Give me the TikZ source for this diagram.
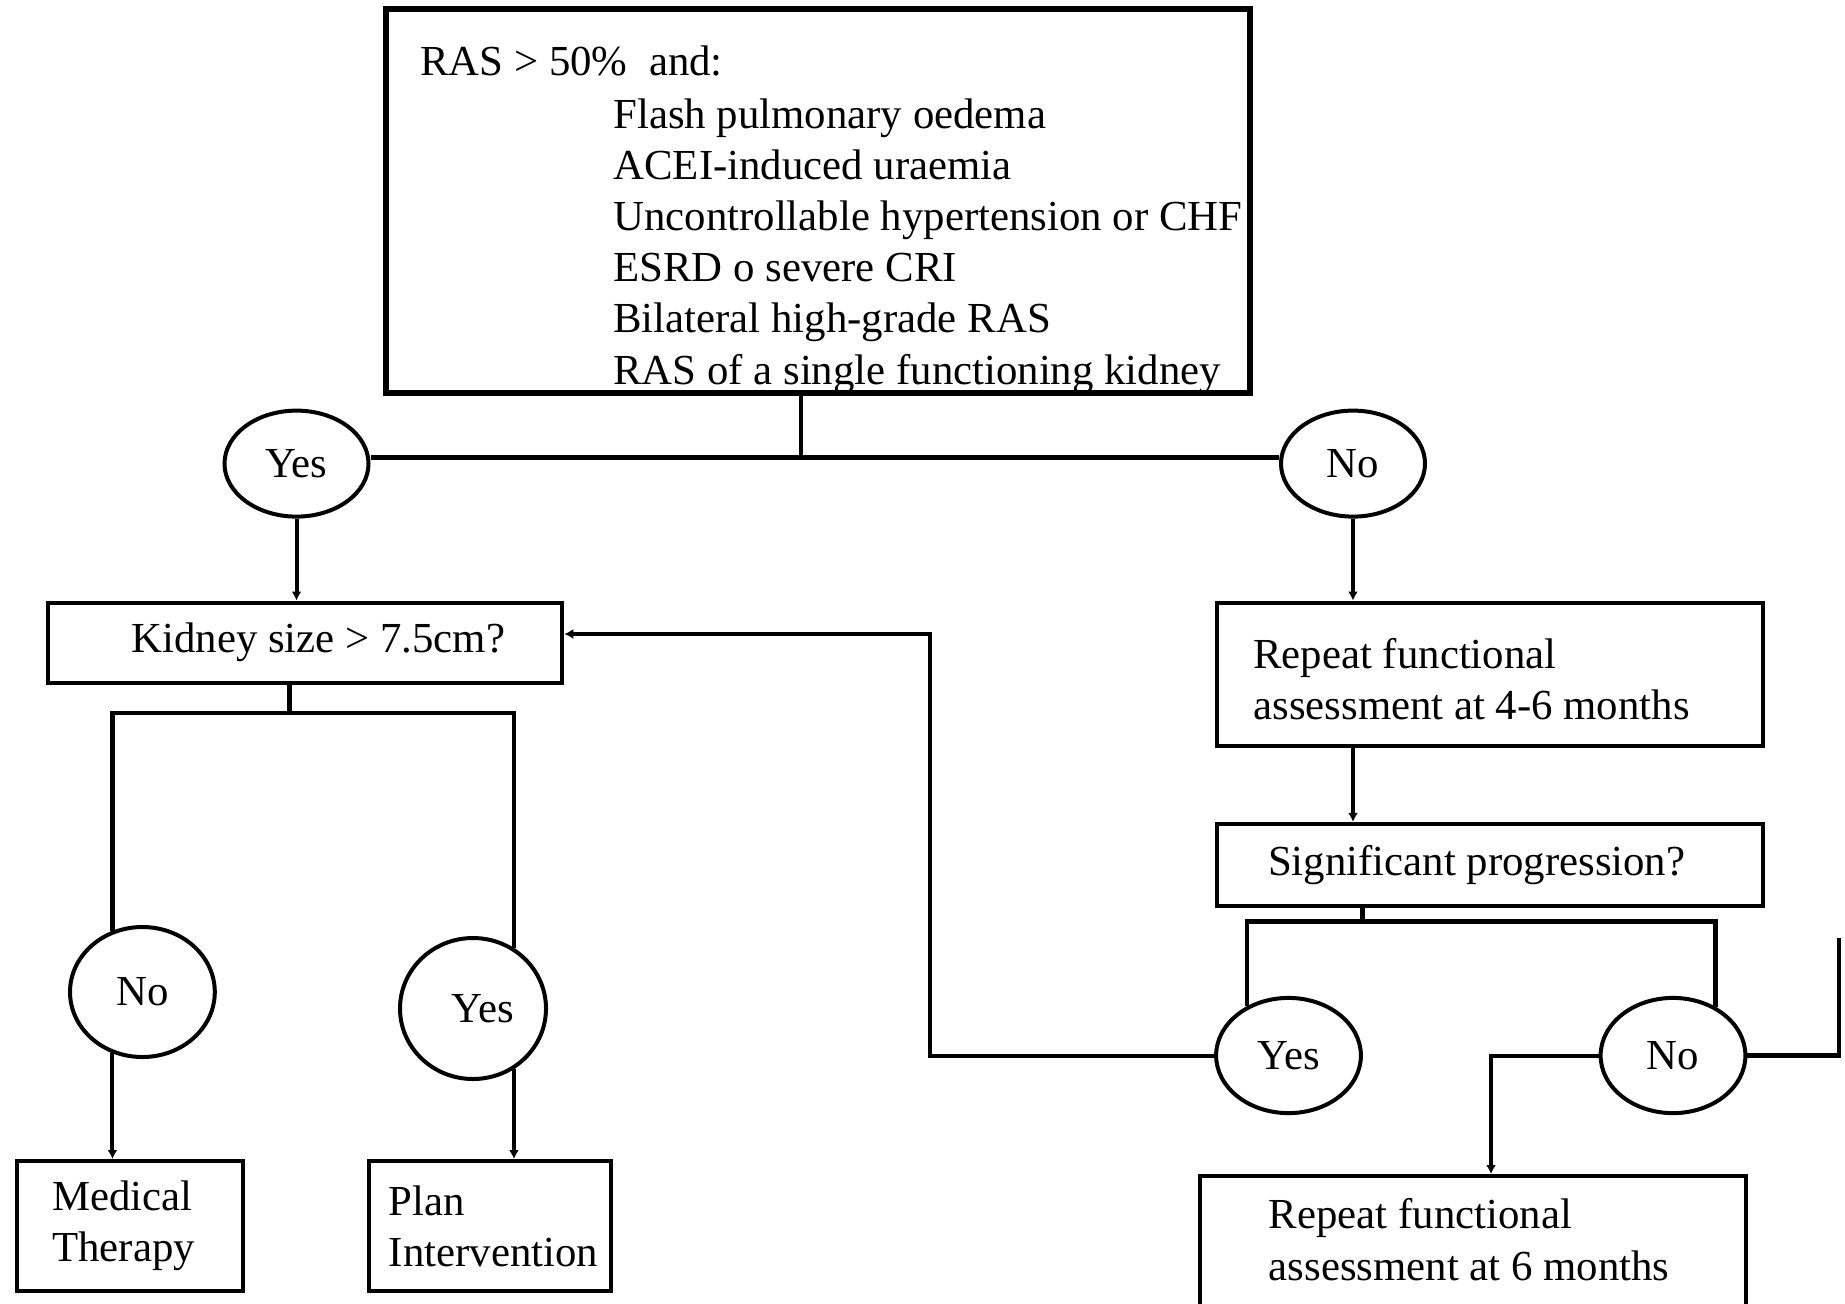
\documentclass[tikz,border=0pt]{standalone}
\usepackage{fontspec}
\setmainfont{Liberation Serif}
\usetikzlibrary{shapes.geometric}
\usetikzlibrary{arrows.meta}
\newcommand{\flowfont}{\fontsize{21.4}{25.5}\selectfont}

\begin{document}
\begin{tikzpicture}[x=0.5pt, y=-0.5pt, font=\flowfont,
    box/.style={draw, line width=2pt, inner sep=0pt},
    oval/.style={draw, ellipse, line width=2pt, inner sep=0pt, minimum width=72pt},
    txt/.style={anchor=base west, inner sep=0pt},
    link/.style={line width=2.3pt},
    arr/.style={line width=2pt, -{Latex[length=4.5pt,width=5pt]}}]
  \useasboundingbox (0,0) rectangle (1845,1303);
  % criteria box
  \node[box, line width=2.8pt, minimum width=432pt, minimum height=192pt] (crit) at (818,201) {};
  \node[txt] (ras) at (420,75) {RAS > 50\%\ \ and:};
  \node[txt] (c1) at (613,128) {Flash pulmonary oedema};
  \node[txt] (c2) at (613,179) {ACEI-induced uraemia};
  \node[txt] (c3) at (613,230) {Uncontrollable hypertension or CHF};
  \node[txt] (c4) at (613,281) {ESRD o severe CRI};
  \node[txt] (c5) at (613,332) {Bilateral high-grade RAS};
  \node[txt] (c6) at (613,384) {RAS of a single functioning kidney};
  \node[oval, minimum height=53pt] (yesA) at (296.5,463.6) {Yes};
  \node[oval, minimum height=53pt] (noA) at (1353,463.6) {No};
  \draw[link] ([xshift=-8.5pt]crit.south) -- ([xshift=-8.5pt,yshift=3pt]crit.south |- yesA.east);
  \draw[link] ([yshift=3pt]yesA.east) -- ([yshift=3pt]noA.west);
  % kidney size branch
  \node[box, minimum width=257pt, minimum height=40pt] (kid) at (305.3,642.5) {\hspace*{13pt}Kidney size > 7.5cm?};
  \draw[arr] (yesA.south) -- (yesA.south |- kid.north);
  \node[oval, minimum width=72.4pt, minimum height=65pt] (noB) at (142.4,992) {No};
  \node[oval, minimum width=73pt, minimum height=70.5pt] (yesB) at (473,1008.5) {\hspace*{10pt}Yes};
  \coordinate (kfork) at (289.5,713);
  \draw[link] (kid.south -| kfork) -- (kfork);
  \draw[link] (noB.116) |- (kfork) -| (yesB.56);
  \node[box, align=left, minimum width=113pt, minimum height=65pt] (med) at (129.5,1226) {Medical\\Therapy\hspace*{6pt}};
  \node[box, align=left, minimum width=120.6pt, minimum height=65pt] (plan) at (490,1226) {\hspace*{3.5pt}Plan\\\hspace*{3.5pt}Intervention};
  \draw[arr] (noB.244) -- (noB.244 |- med.north);
  \draw[arr] (yesB.304) -- (yesB.304 |- plan.north);
  % follow-up branch
  \node[box, minimum width=273pt, minimum height=71.75pt] (rep1) at (1489.7,674.3) {};
  \node[txt] (rep1a) at (1253,668) {Repeat functional};
  \node[txt] (rep1b) at (1253,719) {assessment at 4-6 months};
  \draw[arr] (noA.south) -- (noA.south |- rep1.north);
  \node[box, minimum width=273pt, minimum height=41pt] (sig) at (1489.7,864.9) {Significant progression?\hspace*{13pt}};
  \draw[arr] (rep1.south -| noA.south) -- (sig.north -| noA.south);
  \node[oval, minimum width=72.4pt, minimum height=57.6pt] (yesC) at (1288.5,1055.5) {Yes};
  \node[oval, minimum width=72.4pt, minimum height=57.6pt] (noC) at (1673,1055.5) {No};
  \coordinate (sfork) at (1362.6,921.4);
  \draw[link] (sig.south -| sfork) -- (sfork);
  \draw[link] (yesC.130) |- (sfork) -| (noC.49);
  % back to kidney size
  \coordinate (back) at (929.6,634);
  \draw[arr] (yesC.west) -| (back) -- (kid.east |- back);
  \node[box, minimum width=273pt, minimum height=80pt, anchor=north] (rep2) at (1473,1174) {};
  \node[txt] (rep2a) at (1268.5,1228) {Repeat functional};
  \node[txt] (rep2b) at (1268.5,1280) {assessment at 6 months};
  \coordinate (drop) at (1491,1047);
  \draw[arr] (noC.west) -| (drop |- rep2.north);
  \coordinate (exit) at (1839,938);
  \draw[link] (noC.east) -| (exit);
\end{tikzpicture}
\end{document}
